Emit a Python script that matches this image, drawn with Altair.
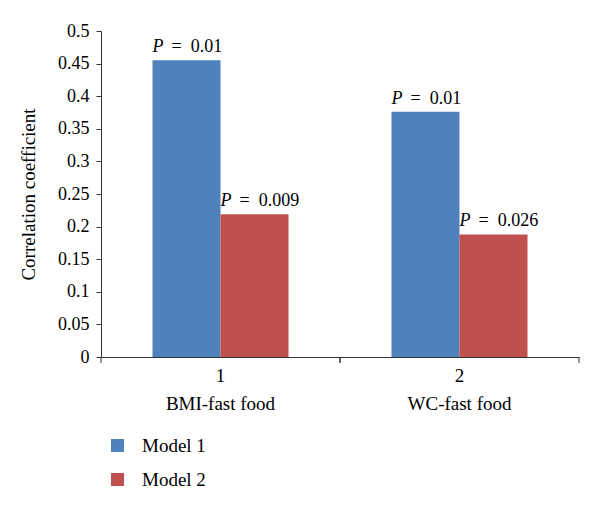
import altair as alt
import pandas as pd

categories = ["BMI-fast food", "WC-fast food"]
category_numbers = ["1", "2"]
models = ["Model 1", "Model 2"]
model1_values = [0.455, 0.376]
model2_values = [0.219, 0.188]
model1_p = ["0.01", "0.01"]
model2_p = ["0.009", "0.026"]
y_ticks = [0, 0.05, 0.1, 0.15, 0.2, 0.25, 0.3, 0.35, 0.4, 0.45, 0.5]
colors = ["#4F81BD", "#C0504D"]

SEP = "=\u00a0\u00a0"
rows = []
for i, c in enumerate(categories):
    rows.append({"cat": c, "model": models[0], "value": model1_values[i], "p": SEP + model1_p[i]})
    rows.append({"cat": c, "model": models[1], "value": model2_values[i], "p": SEP + model2_p[i]})
df = pd.DataFrame(rows)
cat_df = pd.DataFrame({"cat": categories})

FONT = "Liberation Serif"
W, H = 478, 326

label_expr = " : ".join(
    f"datum.value == '{c}' ? ['{n}', '{c}']" for c, n in zip(categories, category_numbers)
) + " : datum.value"

x_scale = alt.Scale(domain=categories, paddingInner=0, paddingOuter=0)
y_scale = alt.Scale(domain=[0, 0.5], nice=False)

x_axis = alt.Axis(labelAngle=0, ticks=False, labelExpr=label_expr,
                  labelFont=FONT, labelFontSize=19, labelColor="#000",
                  labelLineHeight=28, labelPadding=9, domainColor="#333",
                  domainWidth=1)
y_axis = alt.Axis(values=y_ticks, format=".2~f", grid=False, tickSize=5,
                  tickColor="#333", domainColor="#333", labelPadding=7,
                  labelFont=FONT, labelFontSize=18, labelColor="#000",
                  titleFont=FONT, titleFontSize=19, titleFontWeight="normal",
                  titleColor="#000", titlePadding=19)


def x_enc(**kw):
    return alt.X("cat:N", scale=x_scale, sort=categories, title=None, axis=x_axis, **kw)


def y_enc():
    return alt.Y("value:Q", scale=y_scale, title="Correlation coefficient", axis=y_axis)


xo = alt.XOffset("model:N", sort=models, scale=alt.Scale(paddingInner=0, paddingOuter=0.757))

base = alt.Chart(df)

bars = base.mark_bar().encode(
    x=x_enc(),
    xOffset=xo,
    y=y_enc(),
    color=alt.Color("model:N", sort=models,
                    scale=alt.Scale(domain=models, range=colors),
                    legend=alt.Legend(title=None, orient="none", legendX=7, legendY=405,
                                      direction="vertical", symbolType="square",
                                      symbolSize=169, symbolStrokeWidth=0,
                                      labelFont=FONT, labelFontSize=19, labelColor="#000",
                                      labelOffset=15, rowPadding=14, padding=0)),
)

p_letter = base.mark_text(align="left", baseline="alphabetic", dx=-34, dy=-8,
                          font=FONT, fontSize=18, fontStyle="italic", color="#000").encode(
    x=x_enc(),
    xOffset=xo,
    y=y_enc(),
    text=alt.value("P"),
)

p_value = base.mark_text(align="left", baseline="alphabetic", dx=-15, dy=-8,
                         font=FONT, fontSize=18, color="#000").encode(
    x=x_enc(),
    xOffset=xo,
    y=y_enc(),
    text="p:N",
)

tick_start = alt.Chart(cat_df).mark_rule(color="#333", clip=False).encode(
    x=x_enc(bandPosition=0),
    y=alt.value(H),
    y2=alt.value(H + 6),
)
tick_end = alt.Chart(cat_df).mark_rule(color="#333", clip=False).encode(
    x=x_enc(bandPosition=1),
    y=alt.value(H),
    y2=alt.value(H + 6),
)

chart = alt.layer(bars, p_letter, p_value, tick_start, tick_end).properties(
    width=W, height=H,
    background="white",
    autosize=alt.AutoSizeParams(type="none"),
    padding={"left": 93, "top": 23, "right": 13, "bottom": 140},
).configure_view(stroke=None)

chart.save("out.html", embed_options={"renderer": "svg", "actions": False})
